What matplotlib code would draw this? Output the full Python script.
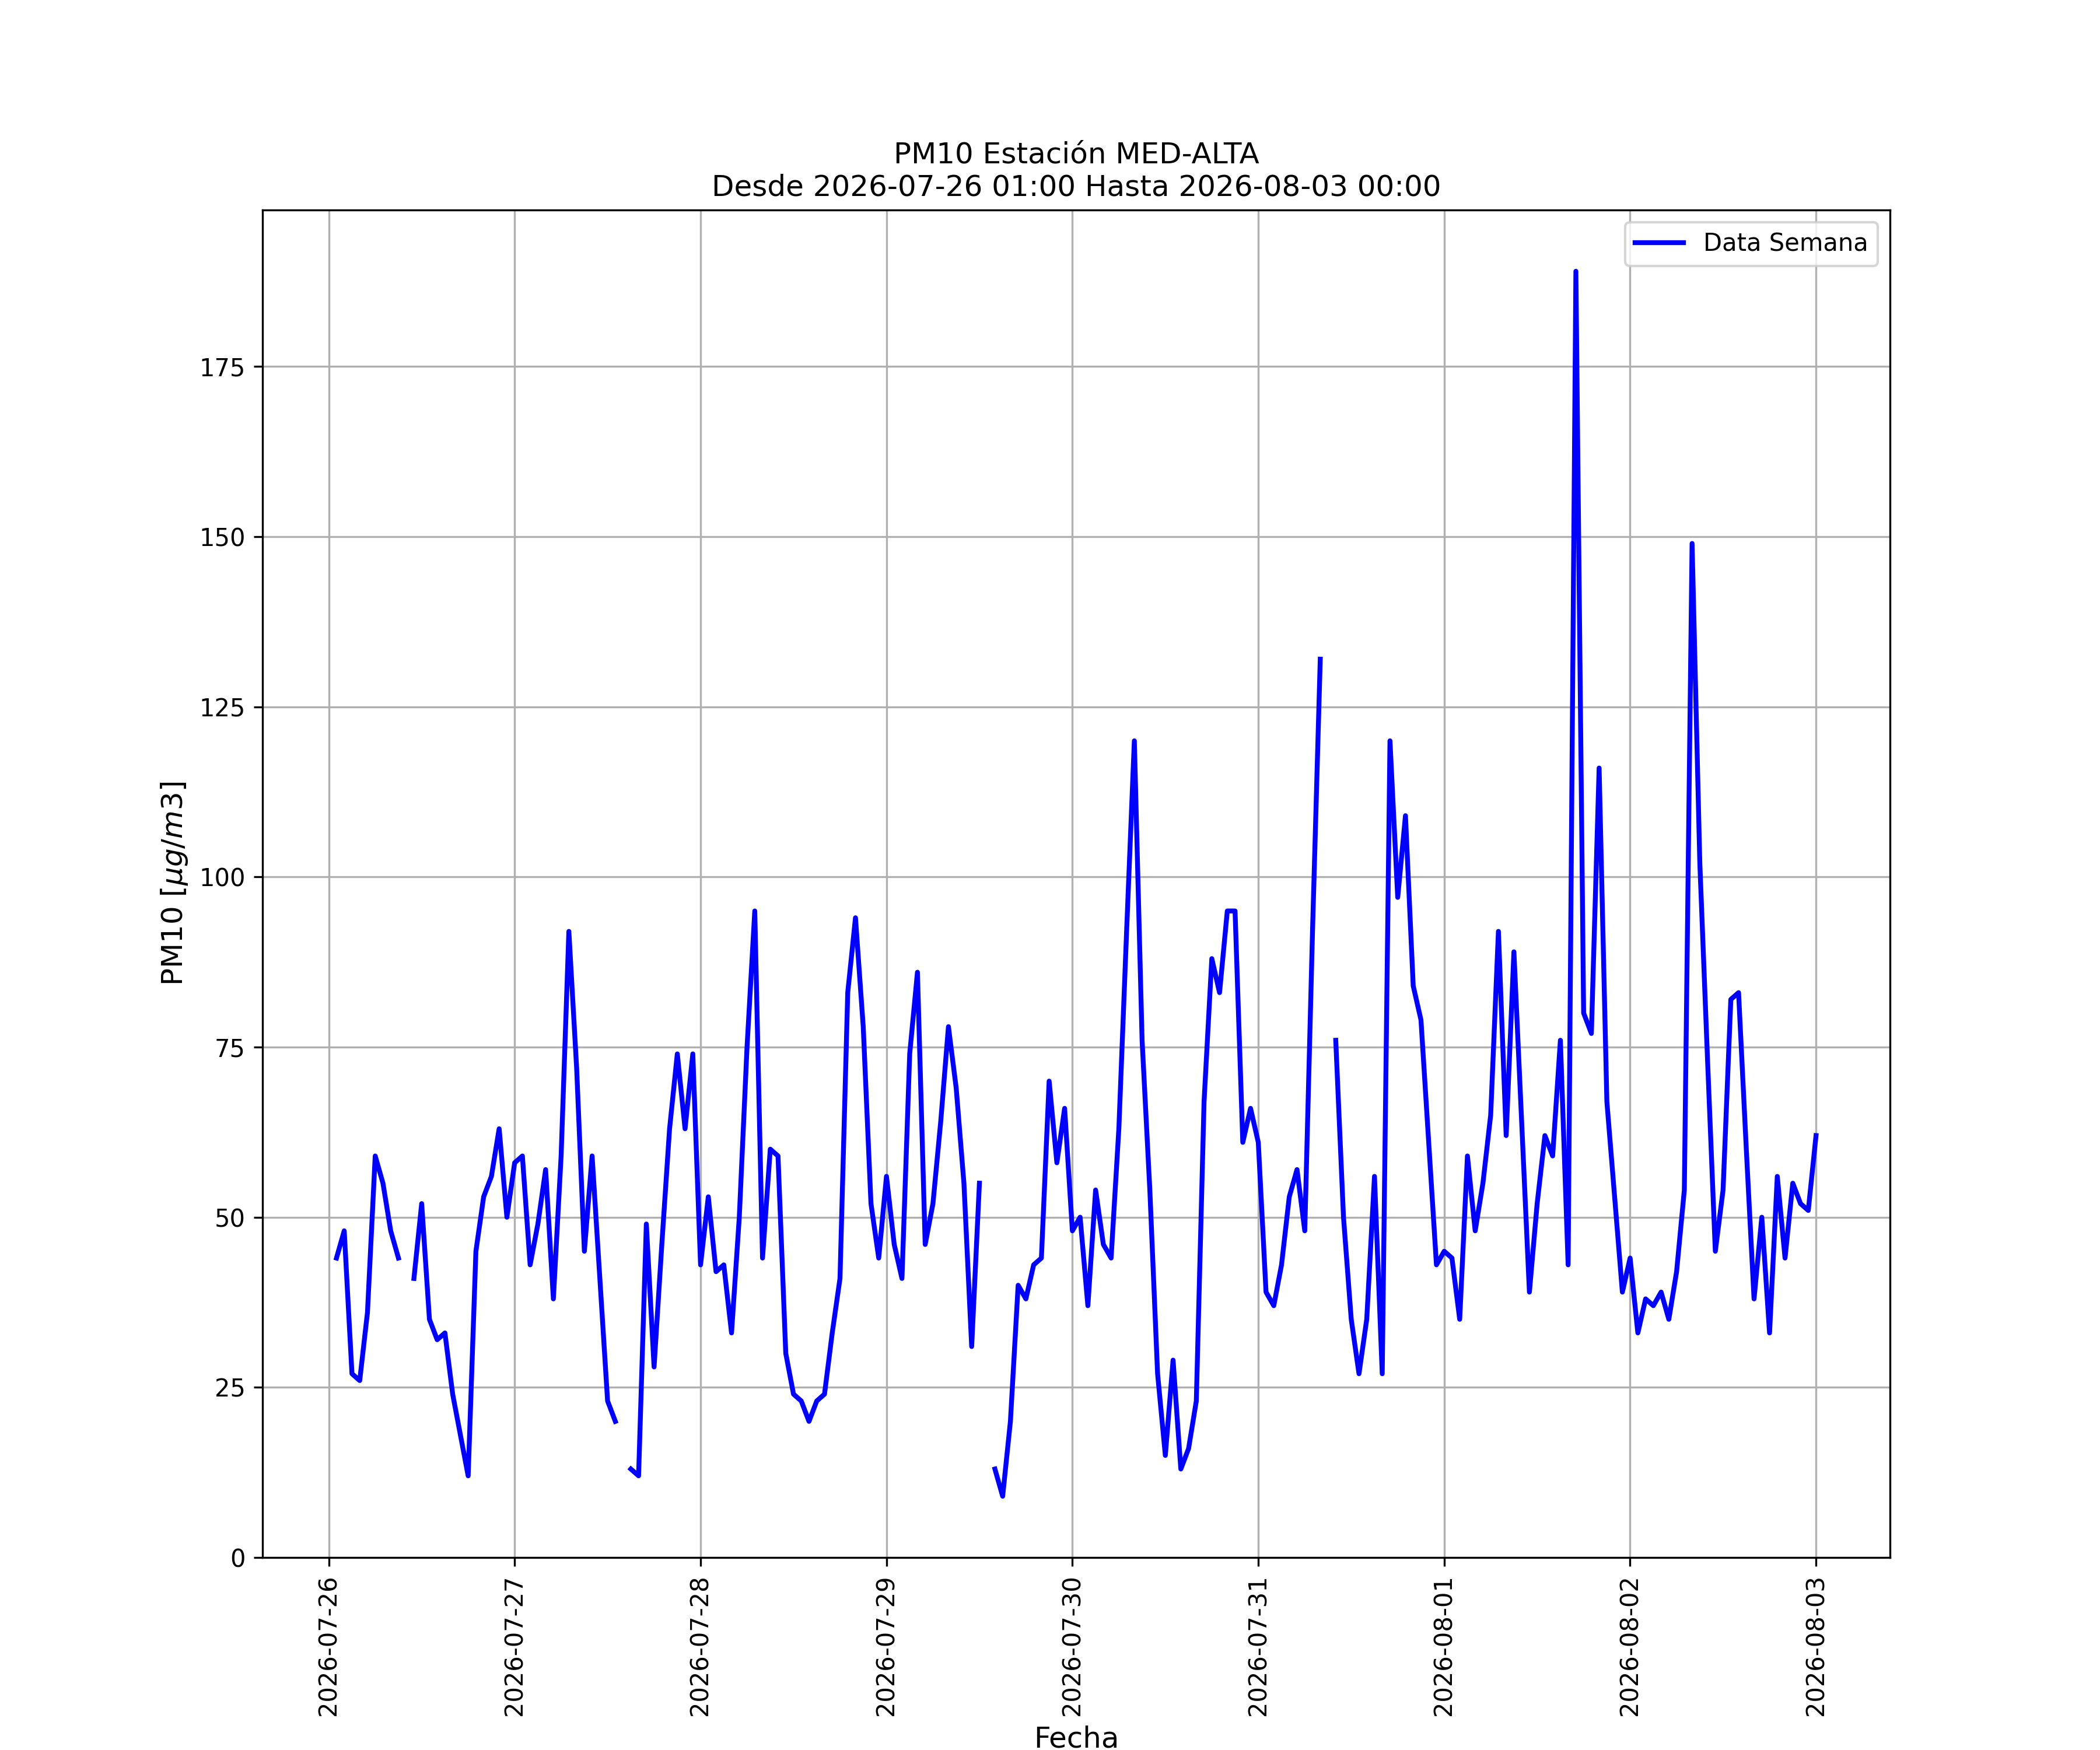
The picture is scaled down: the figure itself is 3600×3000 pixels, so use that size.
import numpy as np
import pandas as pd
import matplotlib
matplotlib.use("Agg")
import matplotlib.pyplot as plt
import matplotlib.dates as mdates

nan = np.nan

# Hourly PM10 values, 2026-07-26 01:00 .. 2026-08-03 00:00 (24 per row)
day1 = [44, 48, 27, 26, 36, 59, 55, 48, 44, nan, 41, 52, 35, 32, 33, 24, 18, 12, 45, 53, 56, 63, 50, 58]
day2 = [59, 43, 49, 57, 38, 59, 92, 72, 45, 59, 41, 23, 20, nan, 13, 12, 49, 28, 46, 63, 74, 63, 74, 43]
day3 = [53, 42, 43, 33, 50, 75, 95, 44, 60, 59, 30, 24, 23, 20, 23, 24, 33, 41, 83, 94, 78, 52, 44, 56]
day4 = [46, 41, 74, 86, 46, 52, 64, 78, 69, 55, 31, 55, nan, 13, 9, 20, 40, 38, 43, 44, 70, 58, 66, 48]
day5 = [50, 37, 54, 46, 44, 63, 92, 120, 76, 54, 27, 15, 29, 13, 16, 23, 67, 88, 83, 95, 95, 61, 66, 61]
day6 = [39, 37, 43, 53, 57, 48, 92, 132, nan, 76, 50, 35, 27, 35, 56, 27, 120, 97, 109, 84, 79, 61, 43, 45]
day7 = [44, 35, 59, 48, 55, 65, 92, 62, 89, 64, 39, 52, 62, 59, 76, 43, 189, 80, 77, 116, 67, 53, 39, 44]
day8 = [33, 38, 37, 39, 35, 42, 54, 149, 102, 73, 45, 54, 82, 83, 60, 38, 50, 33, 56, 44, 55, 52, 51, 62]

pm10 = day1 + day2 + day3 + day4 + day5 + day6 + day7 + day8
fechas = pd.date_range("2026-07-26 01:00", periods=len(pm10), freq="h")

title = "PM10 Estación MED-ALTA\nDesde 2026-07-26 01:00 Hasta 2026-08-03 00:00"
series_label = "Data Semana"

fig, ax = plt.subplots(figsize=(12, 10), dpi=300)
ax.plot(fechas, pm10, color="blue", linewidth=2, label=series_label)
ax.set_title(title)
ax.set_xlabel("Fecha", fontsize=12)
ax.set_ylabel(r"PM10 [$\mu g/m3$]", fontsize=12)
ax.xaxis.set_major_locator(mdates.DayLocator())
ax.xaxis.set_major_formatter(mdates.DateFormatter("%Y-%m-%d"))
plt.setp(ax.get_xticklabels(), rotation=90)
ax.set_ylim(bottom=0)
ax.grid(True)
ax.legend(loc="upper right")
fig.savefig("out.png", dpi=300)
